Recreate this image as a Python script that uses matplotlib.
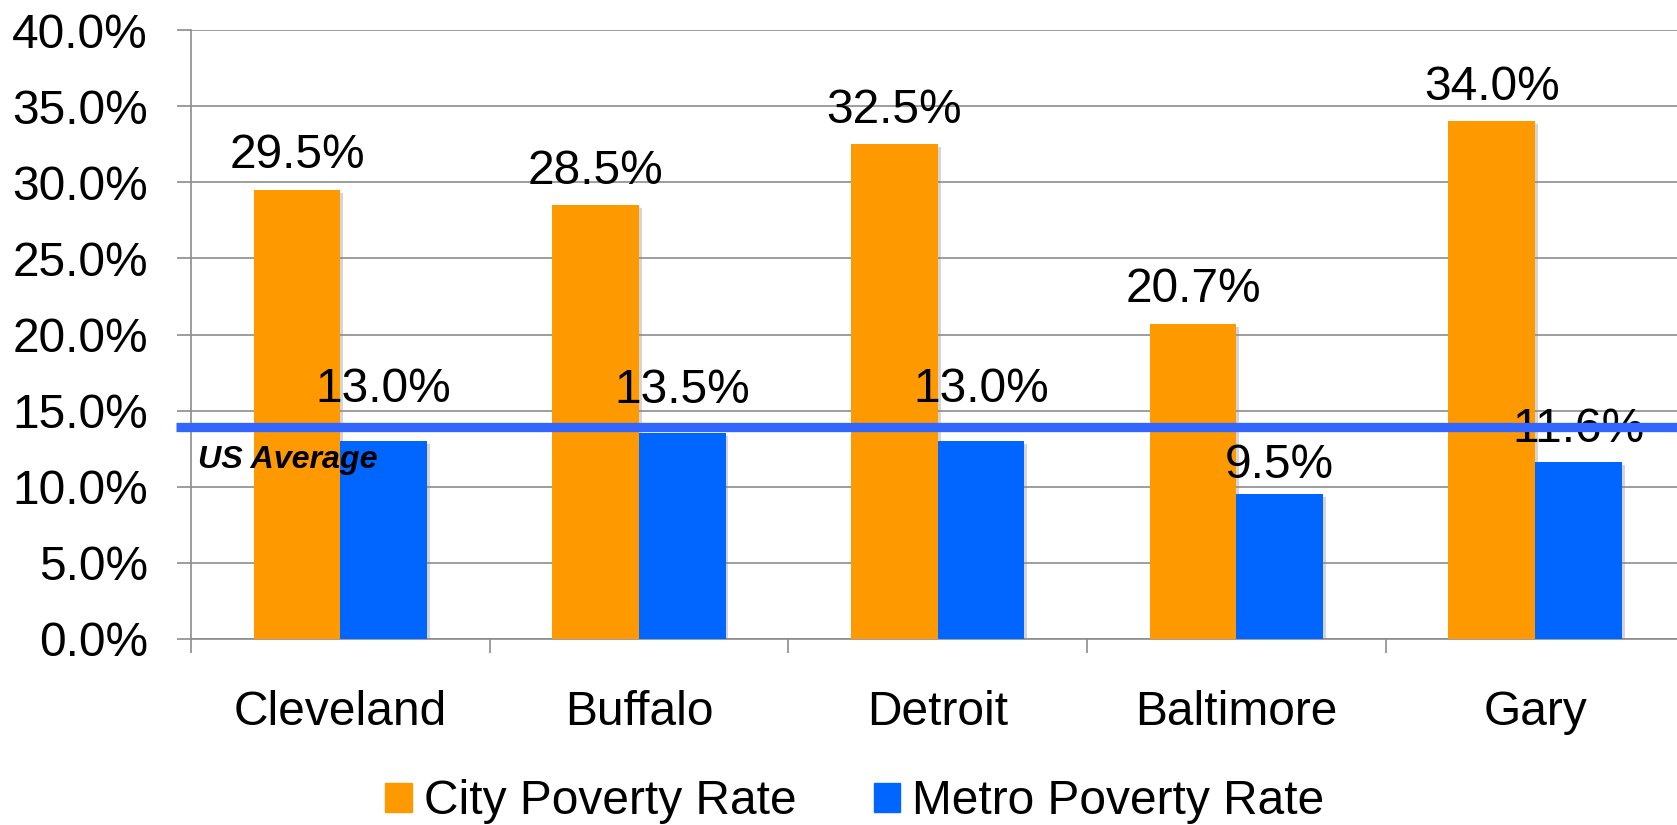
import matplotlib
matplotlib.use("Agg")
import matplotlib.pyplot as plt
import matplotlib.patheffects as pe
from matplotlib.patches import Patch
import numpy as np

plt.rcParams['font.family'] = ['Liberation Sans', 'DejaVu Sans']

cities = ["Cleveland", "Buffalo", "Detroit", "Baltimore", "Gary"]
city_rate = [29.5, 28.5, 32.5, 20.7, 34.0]
metro_rate = [13.0, 13.5, 13.0, 9.5, 11.6]
us_average = 13.9

orange = "#FF9900"
blue = "#0066FF"
line_blue = "#3366FF"
grid_gray = "#8C8C8C"
fs = 34.5

fig = plt.figure(figsize=(16.77, 8.25), dpi=100)
ax = fig.add_axes([191 / 1677, 1 - 639 / 825, 1 - 191 / 1677, (639 - 30) / 825])

x = np.arange(len(cities))
w = 0.29
shadow = [pe.SimplePatchShadow(offset=(2, -2), shadow_rgbFace="#888888", alpha=0.35), pe.Normal()]
b1 = ax.bar(x - w / 2, city_rate, w, color=orange, zorder=3)
b2 = ax.bar(x + w / 2, metro_rate, w, color=blue, zorder=3)
for b in list(b1) + list(b2):
    b.set_path_effects(shadow)

ax.set_xlim(-0.5, 4.475)
ax.set_ylim(0, 40)

# labels, offset of baseline above bar top
for xi, v in zip(x, city_rate):
    ax.annotate(f"{v:.1f}%", (xi - w / 2, v), xytext=(0, 15.5), textcoords="offset points",
                ha="center", va="baseline", fontsize=fs, zorder=5)
metro_offsets = [28, 22, 28, 12, 14.5]
for xi, v, off in zip(x, metro_rate, metro_offsets):
    ax.annotate(f"{v:.1f}%", (xi + w / 2, v), xytext=(0, off), textcoords="offset points",
                ha="center", va="baseline", fontsize=fs, zorder=5)

# US average line
ax.plot([-0.55, 4.475], [us_average, us_average], color=line_blue, lw=6.7,
        solid_capstyle="butt", clip_on=False, zorder=6)
ax.text(-0.477, 11.23, "US Average", fontsize=23.2, fontweight="bold", fontstyle="italic",
        va="baseline", ha="left", zorder=7)

# axes styling
yt = np.arange(0, 41, 5)
ax.set_yticks(yt)
ax.set_yticklabels([f"{v:.1f}%" for v in yt], fontsize=fs)
ax.yaxis.grid(True, color=grid_gray, lw=1.2, zorder=0)
ax.set_axisbelow(True)
ax.tick_params(axis="y", length=10, width=1.2, color=grid_gray, pad=21)

ax.set_xticks(x)
ax.set_xticklabels(cities, fontsize=fs)
ax.set_xticks(np.arange(-0.5, 4.5, 1), minor=True)
ax.tick_params(axis="x", which="major", length=0, pad=37)
ax.tick_params(axis="x", which="minor", length=10, width=1.2, color=grid_gray)

for s in ["top", "right"]:
    ax.spines[s].set_visible(False)
for s in ["left", "bottom"]:
    ax.spines[s].set_color(grid_gray)
    ax.spines[s].set_linewidth(1.2)

handles = [Patch(color=orange, label="City Poverty Rate"),
           Patch(color=blue, label="Metro Poverty Rate")]
fig.legend(handles=handles, loc="center", bbox_to_anchor=(855 / 1677, 1 - 802 / 825), ncol=2,
           frameon=False, fontsize=fs, handlelength=0.55, handleheight=0.55,
           handletextpad=0.26, columnspacing=1.6)

fig.savefig("out.png", dpi=100)
